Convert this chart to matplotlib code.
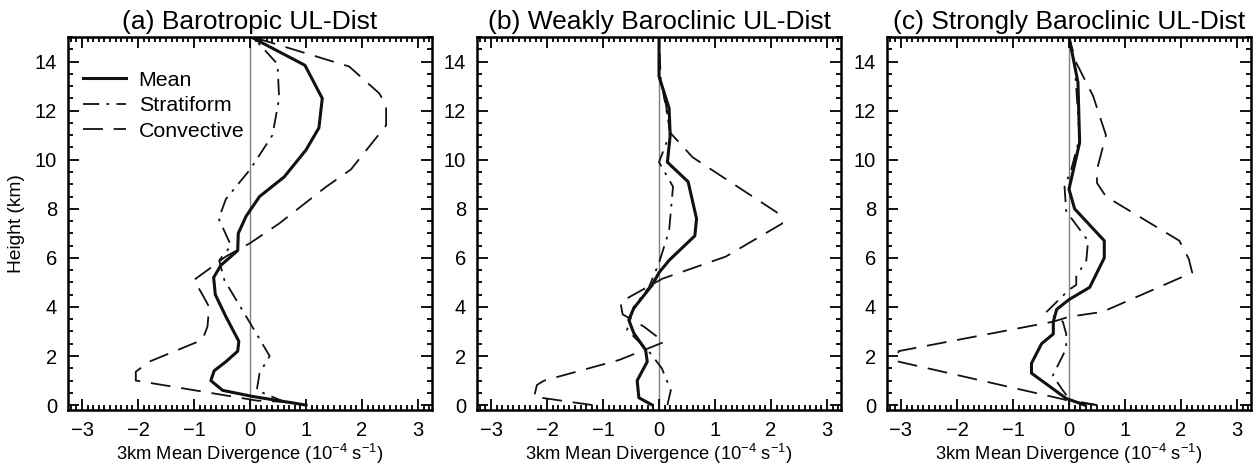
import numpy as np
import matplotlib
matplotlib.use("Agg")
import matplotlib.pyplot as plt
from matplotlib.ticker import MultipleLocator

plt.rcParams['font.family'] = ['Liberation Sans', 'DejaVu Sans']
plt.rcParams['mathtext.default'] = 'regular'

# (a) Barotropic: (divergence, height) pairs
a_mean_x = [1.0, 0.05, -0.49, -0.70, -0.64, -0.43, -0.22, -0.20, -0.43, -0.62, -0.65, -0.52, -0.22, -0.21, -0.07, 0.05, 0.17, 0.61, 1.0, 1.23, 1.29, 0.98, 0.02]
a_mean_z = [0.0, 0.35, 0.6, 1.0, 1.4, 1.77, 2.2, 2.6, 3.6, 4.5, 5.2, 5.7, 6.3, 7.0, 7.7, 8.1, 8.5, 9.3, 10.4, 11.3, 12.5, 13.85, 15.0]
a_strat_x = [0.65, 0.12, 0.17, 0.35, -0.04, -0.46, -0.55, -0.34, -0.56, -0.43, 0.0, 0.40, 0.52, 0.49, 0.05]
a_strat_z = [0.1, 0.6, 1.3, 2.0, 3.5, 5.1, 5.9, 6.5, 7.6, 8.4, 9.6, 11.0, 12.5, 13.9, 15.0]
a_conv_x = [0.75, 0.13, -2.04, -2.04, -1.8, -0.85, -0.76, -0.73, -0.85, -1.0, -0.76, -0.43, 0.0, 0.52, 1.36, 1.8, 2.43, 2.43, 2.31, 1.77, 0.05]
a_conv_z = [0.12, 0.18, 1.0, 1.36, 1.77, 2.66, 3.2, 4.0, 4.5, 5.1, 5.5, 6.06, 6.6, 7.4, 8.9, 9.6, 11.4, 12.2, 12.7, 13.8, 15.0]

# (b) Weakly baroclinic
b_mean_x = [-0.12, -0.36, -0.39, -0.21, -0.24, -0.45, -0.54, -0.45, -0.12, 0.0, 0.18, 0.64, 0.67, 0.52, 0.15, 0.2, 0.18, 0.0, 0.0]
b_mean_z = [0.0, 0.3, 1.0, 1.77, 2.25, 2.93, 3.47, 3.95, 4.9, 5.4, 5.9, 6.9, 7.6, 9.1, 9.9, 11.0, 12.1, 13.4, 15.0]
b_strat_x = [0.15, 0.21, 0.05, -0.15, -0.57, -0.45, -0.18, 0.0, 0.18, 0.25, 0.0, 0.2, 0.12, 0.03, 0.0]
b_strat_z = [0.0, 0.6, 1.5, 2.1, 3.07, 4.0, 4.8, 5.8, 7.1, 8.9, 9.9, 11.1, 12.2, 13.3, 15.0]
b_conv_x = [-1.19, -2.23, -2.18, -2.05, -0.71, 0.09, -0.27, -0.65, -0.69, 0.06, 1.19, 2.2, 2.14, 0.6, 0.2, 0.12, 0.0, 0.0]
b_conv_z = [0.0, 0.34, 0.82, 1.0, 1.84, 2.57, 3.2, 3.7, 4.2, 5.15, 6.05, 7.4, 7.8, 10.1, 11.1, 12.3, 13.4, 15.0]

# (c) Strongly baroclinic
c_mean_x = [0.28, -0.05, -0.67, -0.67, -0.49, -0.28, -0.28, -0.22, 0.0, 0.37, 0.63, 0.63, 0.1, 0.0, 0.19, 0.16, 0.0]
c_mean_z = [0.0, 0.27, 1.3, 1.7, 2.5, 2.9, 3.4, 3.9, 4.3, 4.8, 6.0, 6.7, 8.0, 8.8, 10.7, 13.15, 15.0]
c_strat_x = [0.5, 0.02, -0.11, -0.29, -0.05, -0.05, -0.11, -0.4, 0.0, 0.13, 0.13, 0.31, 0.34, -0.05, -0.08, 0.04, 0.19, 0.1, 0.0]
c_strat_z = [0.0, 0.2, 0.6, 1.2, 2.3, 2.9, 3.4, 3.8, 4.7, 4.9, 5.25, 5.9, 6.7, 7.9, 8.9, 9.6, 10.9, 13.9, 15.0]
c_conv_x = [0.5, 0.03, -0.11, -3.1, -3.04, -0.28, 0.0, 0.6, 2.2, 2.14, 1.97, 0.66, 0.5, 0.5, 0.66, 0.43, 0.13, 0.0]
c_conv_z = [0.0, 0.15, 0.24, 1.8, 2.2, 3.4, 3.6, 3.8, 5.4, 5.95, 6.7, 8.5, 9.05, 9.6, 11.0, 12.6, 13.95, 15.0]

titles = ["(a) Barotropic UL-Dist", "(b) Weakly Baroclinic UL-Dist", "(c) Strongly Baroclinic UL-Dist"]
panels = [
    (a_mean_x, a_mean_z, a_strat_x, a_strat_z, a_conv_x, a_conv_z),
    (b_mean_x, b_mean_z, b_strat_x, b_strat_z, b_conv_x, b_conv_z),
    (c_mean_x, c_mean_z, c_strat_x, c_strat_z, c_conv_x, c_conv_z),
]

fig = plt.figure(figsize=(12.53, 4.65), dpi=100)
lefts = [0.0543, 0.3807, 0.7079]

for i in range(3):
    ax = fig.add_axes([lefts[i], 0.1183, 0.2905, 0.802])
    mx, mz, sx, sz, cx, cz = panels[i]
    ax.axvline(0, color='#808080', lw=1.0, zorder=1)
    ax.plot(mx, mz, color='#111111', lw=2.2, label='Mean')
    ax.plot(sx, sz, color='#111111', lw=1.3, dashes=(9, 4, 1.5, 4), label='Stratiform')
    ax.plot(cx, cz, color='#111111', lw=1.3, dashes=(11, 6), label='Convective')
    ax.set_xlim(-3.25, 3.25)
    ax.set_ylim(-0.2, 15)
    ax.xaxis.set_major_locator(MultipleLocator(1))
    ax.xaxis.set_minor_locator(MultipleLocator(0.1))
    ax.yaxis.set_major_locator(MultipleLocator(2))
    ax.yaxis.set_minor_locator(MultipleLocator(0.5))
    ax.tick_params(which='both', direction='in', top=True, right=True, labelsize=14.5, width=1.3)
    ax.tick_params(which='major', length=8)
    ax.tick_params(which='minor', length=3.5)
    ax.tick_params(axis='x', which='major', pad=8)
    ax.tick_params(axis='y', which='major', pad=8)
    for s in ax.spines.values():
        s.set_linewidth(1.8)
    ax.set_title(titles[i], fontsize=19, pad=6)
    ax.set_xlabel("3km Mean Divergence (10$^{-4}$ s$^{-1}$)", fontsize=13.2, labelpad=1)
    if i == 0:
        ax.set_ylabel("Height (km)", fontsize=13.8, labelpad=7)
        ax.legend(loc='upper left', frameon=False, fontsize=15.4, handlelength=2.0,
                  handletextpad=0.6, labelspacing=0.3, borderaxespad=0.3,
                  bbox_to_anchor=(0.0, 0.95))

plt.savefig('out.png', dpi=100)
